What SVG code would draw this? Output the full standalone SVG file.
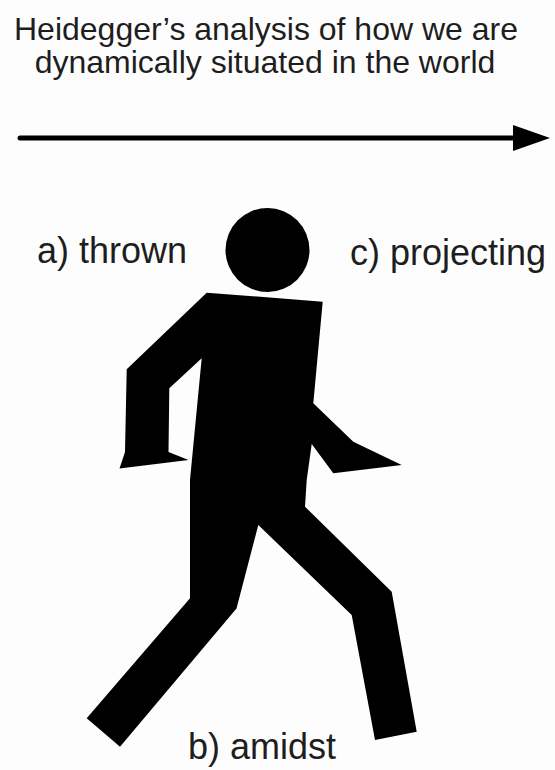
<svg xmlns="http://www.w3.org/2000/svg" width="555" height="770" viewBox="0 0 555 770">
  <style>
    .title { font-family: "Liberation Sans", Arial, sans-serif; font-size: 32px; fill: #1e1e1e; text-anchor: middle; }
    .label { font-family: "Liberation Sans", Arial, sans-serif; font-size: 36px; fill: #1e1e1e; }
    .ink { fill: #000; }
  </style>
  <defs>
    <marker id="arrowhead" markerUnits="userSpaceOnUse" markerWidth="40" markerHeight="30" refX="0" refY="13" orient="auto">
      <path d="M0,0 L37,13 L0,26 Z" fill="#000"/>
    </marker>
  </defs>
  <rect width="555" height="770" fill="#fdfdfd"/>

  <g id="title">
    <text class="title" x="266" y="40">Heidegger’s analysis of how we are</text>
    <text class="title" x="265" y="73">dynamically situated in the world</text>
  </g>

  <g id="connectors">
    <line x1="20" y1="138" x2="513" y2="138" stroke="#000" stroke-width="5" stroke-linecap="round" marker-end="url(#arrowhead)"/>
  </g>

  <g id="figure">
    <circle id="head" class="ink" cx="267.5" cy="250" r="42"/>
    <path id="body" class="ink" d="
      M206.7,292.7 L322.7,301.7 L313.3,403.3
      L353.3,441.7 L401.7,465 L333.3,473.3 L311.7,444
      L306.7,480 L305,506.7
      L391.7,591.7 L416.7,731.7 L375,740 L351.7,615 L258.3,525
      L236.5,608.5 L120,746.7 L86.7,718.3 L190,598.3
      L190,480 L201.7,358.3
      L169.3,388.3 L168.5,452 L188.5,460 L119.5,468.5 L125,452 L126.7,369.3 Z"/>
  </g>

  <g id="label-thrown">
    <text class="label" x="37" y="263">a) thrown</text>
  </g>
  <g id="label-projecting">
    <text class="label" x="350" y="265">c) projecting</text>
  </g>
  <g id="label-amidst">
    <text class="label" x="188" y="759">b) amidst</text>
  </g>
</svg>
